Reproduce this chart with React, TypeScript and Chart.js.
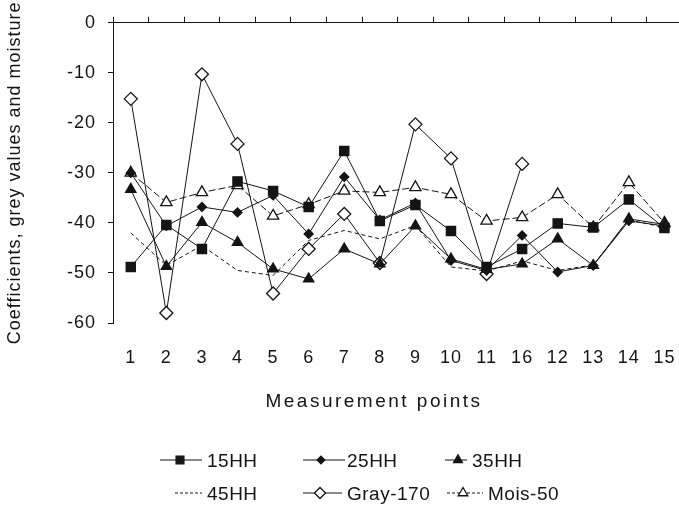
import React, { useEffect, useRef } from 'react';
import { Chart, registerables } from 'chart.js';

Chart.register(...registerables);

// ---- data ----
const categories = ['1', '2', '3', '4', '5', '6', '7', '8', '9', '10', '11', '16', '12', '13', '14', '15'];
const seriesNames = ['15HH', '25HH', '35HH', '45HH', 'Gray-170', 'Mois-50'];
const s15HH = [-48.8, -40.4, -45.2, -31.7, -33.6, -36.8, -25.6, -39.6, -36.4, -41.6, -48.8, -45.2, -40.1, -40.9, -35.3, -41.0];
const s25HH = [-30.0, -40.6, -36.8, -37.9, -34.5, -42.2, -30.8, -39.4, -36.0, -47.5, -49.5, -42.5, -49.8, -48.5, -39.6, -40.6];
const s35HH = [-33.3, -48.7, -39.9, -43.9, -49.2, -51.2, -45.2, -48.2, -40.6, -47.2, -49.3, -48.2, -43.2, -48.5, -39.2, -40.3];
const s45HH = [-42.0, -48.5, -44.5, -49.5, -50.5, -43.5, -41.5, -43.2, -40.5, -48.8, -49.6, -47.6, -49.5, -48.4, -39.4, -40.9];
const gray170 = [-15.2, -58.0, -10.3, -24.2, -54.1, -45.2, -38.2, -48.0, -20.3, -27.1, -50.2, -28.2, null, null, null, null];
const mois50 = [-30.0, -35.9, -33.9, -32.5, -38.6, -36.3, -33.6, -33.9, -32.9, -34.3, -39.6, -38.9, -34.3, -40.9, -31.9, -40.0];
const yMin = -60;
const yMax = 0;
const yStep = 10;
const xTitle = 'Measurement points';
const yTitle = 'Coefficients, grey values and moisture';

// ---- styles ----
const INK = '#141414';
const FAMILY = '"Liberation Sans", Arial, Helvetica, sans-serif';

type Mk = { style: string; r: number; fill: string; dash: number[] };
const markers: Mk[] = [
  { style: 'rect', r: 6.5, fill: INK, dash: [] },
  { style: 'rectRot', r: 4.5, fill: INK, dash: [] },
  { style: 'triangle', r: 6, fill: INK, dash: [] },
  { style: 'none', r: 0, fill: INK, dash: [4, 3] },
  { style: 'rectRot', r: 6.5, fill: '#ffffff', dash: [] },
  { style: 'triangle', r: 6.5, fill: '#ffffff', dash: [7, 3] },
];

// legend layout (sample line start/end, marker centre, text start, row)
const legendLayout = [
  { x0: 160, x1: 202, mx: 180, tx: 207, row: 0 },
  { x0: 303, x1: 345, mx: 321, tx: 347, row: 0 },
  { x0: 445, x1: 467, mx: 458, tx: 472, row: 0 },
  { x0: 175, x1: 202, mx: 0, tx: 207, row: 1 },
  { x0: 303, x1: 342, mx: 320, tx: 347, row: 1 },
  { x0: 447, x1: 483, mx: 463, tx: 488, row: 1 },
];
const rowLineY = [460, 493];
const rowTextY = [467, 500];

function drawMarker(ctx: CanvasRenderingContext2D, m: Mk, x: number, y: number) {
  if (m.style === 'none') return;
  ctx.save();
  ctx.setLineDash([]);
  ctx.fillStyle = m.fill;
  ctx.strokeStyle = INK;
  ctx.lineWidth = 1.3;
  ctx.beginPath();
  const r = m.r * 0.85;
  if (m.style === 'rect') {
    const s = r * Math.SQRT1_2;
    ctx.rect(x - s, y - s, 2 * s, 2 * s);
  } else if (m.style === 'rectRot') {
    ctx.moveTo(x, y - r);
    ctx.lineTo(x + r, y);
    ctx.lineTo(x, y + r);
    ctx.lineTo(x - r, y);
    ctx.closePath();
  } else if (m.style === 'triangle') {
    ctx.moveTo(x, y - r);
    ctx.lineTo(x + r * 0.866, y + r * 0.5);
    ctx.lineTo(x - r * 0.866, y + r * 0.5);
    ctx.closePath();
  }
  ctx.fill();
  ctx.stroke();
  ctx.restore();
}

const spacingPlugin = {
  id: 'spacing',
  beforeLayout(chart: any) {
    chart.ctx.letterSpacing = '1px';
  },
  beforeDraw(chart: any) {
    chart.ctx.letterSpacing = '1px';
  },
};

const annotPlugin = {
  id: 'annot',
  afterDraw(chart: any) {
    const ctx: CanvasRenderingContext2D = chart.ctx;
    ctx.save();
    ctx.fillStyle = INK;
    ctx.font = `19px ${FAMILY}`;
    (ctx as any).letterSpacing = '2.5px';
    ctx.textAlign = 'center';
    ctx.textBaseline = 'alphabetic';
    ctx.fillText(xTitle, 374, 407);

    ctx.textAlign = 'left';
    (ctx as any).letterSpacing = '0.5px';
    seriesNames.forEach((name, i) => {
      const L = legendLayout[i];
      const m = markers[i];
      const ly = rowLineY[L.row];
      ctx.save();
      ctx.strokeStyle = INK;
      ctx.lineWidth = 1;
      ctx.setLineDash(m.dash.length ? [3, 2] : []);
      ctx.beginPath();
      ctx.moveTo(L.x0, ly);
      ctx.lineTo(L.x1, ly);
      ctx.stroke();
      ctx.restore();
      if (L.mx) drawMarker(ctx, m, L.mx, ly);
      ctx.fillStyle = INK;
      ctx.fillText(name, L.tx, rowTextY[L.row]);
    });
    ctx.restore();
  },
};

export default function App() {
  const ref = useRef<HTMLCanvasElement | null>(null);

  useEffect(() => {
    if (!ref.current) return;
    const allSeries = [s15HH, s25HH, s35HH, s45HH, gray170, mois50];
    const datasets = allSeries.map((vals, i) => {
      const m = markers[i];
      return {
        label: seriesNames[i],
        data: vals,
        borderColor: INK,
        borderWidth: 1,
        borderDash: m.dash,
        backgroundColor: m.fill,
        pointStyle: m.style === 'none' ? 'circle' : m.style,
        pointRadius: m.r,
        pointBackgroundColor: m.fill,
        pointBorderColor: INK,
        pointBorderWidth: 1.3,
        tension: 0,
        spanGaps: false,
        fill: false,
      };
    });

    const chart = new Chart(ref.current, {
      type: 'line',
      data: { labels: categories, datasets },
      plugins: [spacingPlugin, annotPlugin],
      options: {
        responsive: false,
        animation: false,
        layout: { padding: { left: 0, right: 11, top: 0, bottom: 0 } },
        plugins: {
          legend: { display: false },
          tooltip: { enabled: false },
          title: { display: false },
        },
        scales: {
          x: {
            type: 'category',
            position: 'bottom',
            offset: true,
            grid: { display: false, drawTicks: false },
            border: { display: false },
            ticks: {
              color: INK,
              font: { family: FAMILY, size: 18 },
              padding: 24,
              maxRotation: 0,
              autoSkip: false,
            },
            afterFit(s: any) {
              s.height = 183;
            },
          },
          xTop: {
            type: 'category',
            position: 'top',
            labels: categories,
            offset: true,
            grid: { offset: true, drawOnChartArea: false, tickLength: 6, color: INK, lineWidth: 1 },
            border: { display: true, color: INK, width: 1 },
            ticks: { display: false },
            afterFit(s: any) {
              s.height = 21;
            },
          },
          y: {
            type: 'linear',
            min: yMin,
            max: yMax,
            ticks: {
              stepSize: yStep,
              color: INK,
              font: { family: FAMILY, size: 18 },
              padding: 12,
            },
            grid: { drawOnChartArea: false, tickLength: 5, color: INK, lineWidth: 1 },
            border: { display: true, color: INK, width: 1 },
            title: {
              display: true,
              text: yTitle,
              color: INK,
              font: { family: FAMILY, size: 18 },
              padding: { top: 4, bottom: 0 },
            },
            afterFit(s: any) {
              s.width = 113;
            },
          },
        },
      } as any,
    });
    return () => chart.destroy();
  }, []);

  return (
    <div style={{ position: 'absolute', left: 0, top: 0, width: 679, height: 506, overflow: 'hidden', background: '#fff' }}>
      <canvas ref={ref} width={700} height={506} style={{ display: 'block', width: 700, height: 506 }} />
    </div>
  );
}
